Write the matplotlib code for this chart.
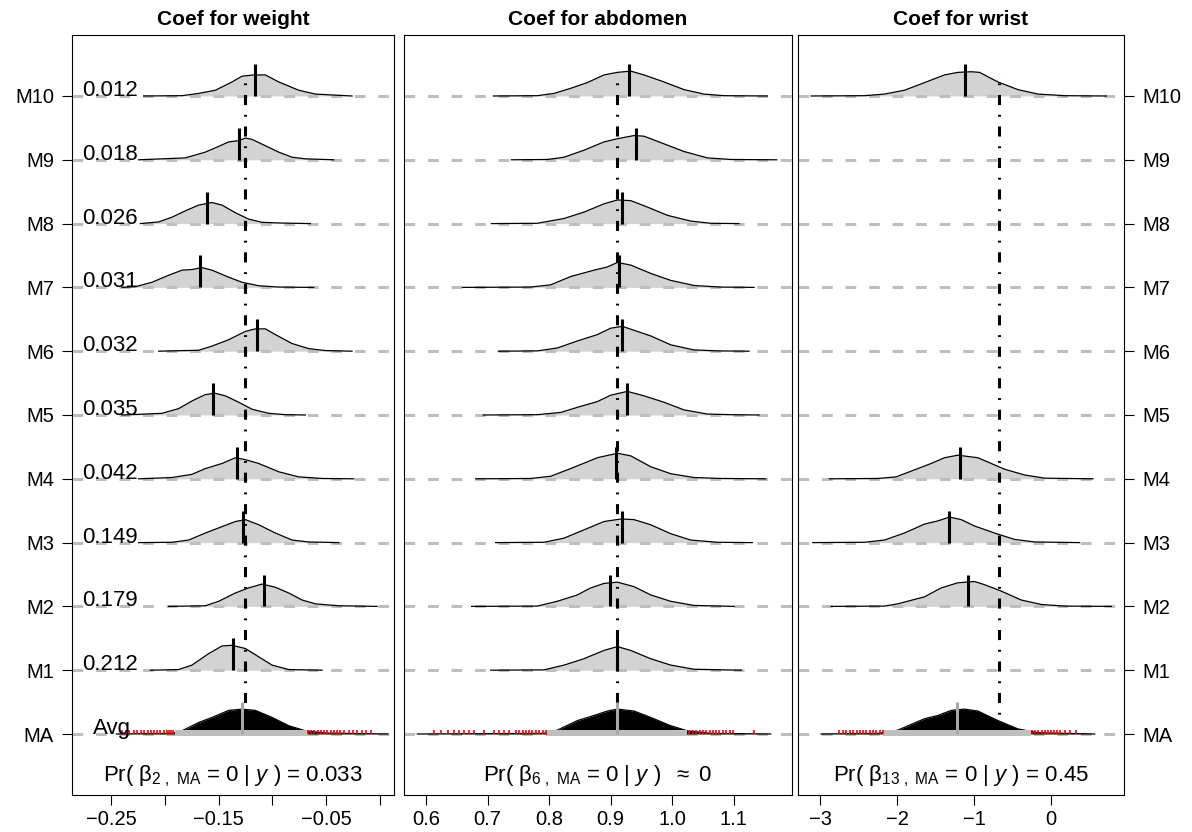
import matplotlib
matplotlib.use("Agg")
import matplotlib.pyplot as plt

plt.rcParams["font.family"] = ["Liberation Sans", "DejaVu Sans"]
plt.rcParams["mathtext.fontset"] = "custom"
plt.rcParams["mathtext.rm"] = "Liberation Sans"
plt.rcParams["mathtext.it"] = "Liberation Sans:italic"
plt.rcParams["mathtext.bf"] = "Liberation Sans:bold"
plt.rcParams["mathtext.default"] = "regular"

# -----------------------------------------------------------
# data
# rows: 0 = model average (MA), 1..10 = M1..M10
# -----------------------------------------------------------
row_names = ["MA", "M1", "M2", "M3", "M4", "M5", "M6", "M7", "M8", "M9", "M10"]
post_probs = ["0.212", "0.179", "0.149", "0.042", "0.035",
              "0.032", "0.031", "0.026", "0.018", "0.012"]  # M1..M10

# --- Coef for weight
weight_rows = [10, 9, 8, 7, 6, 5, 4, 3, 2, 1]
weight_x = [
    [-0.2196, -0.1840, -0.1685, -0.1530, -0.1375, -0.1282, -0.1174, -0.1065, -0.0941, -0.0755, -0.0601, -0.0260],
    [-0.2243, -0.1809, -0.1623, -0.1499, -0.1406, -0.1313, -0.1251, -0.1189, -0.1065, -0.0941, -0.0817, -0.0693, -0.0430],
    [-0.2227, -0.2057, -0.1933, -0.1809, -0.1685, -0.1561, -0.1468, -0.1344, -0.1220, -0.1096, -0.0941, -0.0647],
    [-0.2397, -0.2273, -0.2119, -0.1964, -0.1840, -0.1747, -0.1654, -0.1561, -0.1406, -0.1282, -0.1127, -0.0941, -0.0616],
    [-0.2057, -0.1685, -0.1561, -0.1406, -0.1251, -0.1158, -0.1065, -0.0972, -0.0817, -0.0662, -0.0507, -0.0260],
    [-0.2397, -0.2026, -0.1871, -0.1747, -0.1623, -0.1530, -0.1437, -0.1313, -0.1189, -0.1034, -0.0879, -0.0693],
    [-0.2243, -0.1933, -0.1747, -0.1623, -0.1468, -0.1344, -0.1251, -0.1127, -0.0941, -0.0755, -0.0538, -0.0244],
    [-0.2243, -0.1933, -0.1778, -0.1623, -0.1468, -0.1344, -0.1251, -0.1127, -0.0972, -0.0817, -0.0662, -0.0383],
    [-0.1964, -0.1623, -0.1499, -0.1344, -0.1220, -0.1096, -0.0972, -0.0848, -0.0724, -0.0601, -0.0383, -0.0027],
    [-0.2134, -0.1871, -0.1747, -0.1592, -0.1468, -0.1375, -0.1251, -0.1127, -0.1003, -0.0848, -0.0538],
]
weight_h = [
    [0, 0.005, 0.04, 0.09, 0.22, 0.31, 0.33, 0.33, 0.22, 0.09, 0.03, 0],
    [0, 0.03, 0.12, 0.21, 0.28, 0.30, 0.34, 0.32, 0.22, 0.12, 0.04, 0.015, 0],
    [0, 0.026, 0.10, 0.20, 0.29, 0.33, 0.29, 0.17, 0.07, 0.02, 0.01, 0],
    [0, 0.01, 0.08, 0.19, 0.27, 0.28, 0.31, 0.27, 0.16, 0.08, 0.026, 0.005, 0],
    [0, 0.015, 0.08, 0.18, 0.31, 0.35, 0.35, 0.26, 0.12, 0.04, 0.01, 0],
    [0, 0.026, 0.10, 0.22, 0.32, 0.34, 0.30, 0.20, 0.09, 0.026, 0.005, 0],
    [0, 0.02, 0.07, 0.16, 0.24, 0.33, 0.30, 0.24, 0.11, 0.03, 0.005, 0],
    [0, 0.005, 0.04, 0.15, 0.25, 0.33, 0.36, 0.28, 0.15, 0.04, 0.01, 0],
    [0, 0.01, 0.08, 0.21, 0.29, 0.35, 0.30, 0.21, 0.10, 0.04, 0.01, 0],
    [0, 0.01, 0.08, 0.26, 0.38, 0.39, 0.34, 0.21, 0.08, 0.01, 0],
]
weight_med = [-0.1158, -0.1313, -0.1607, -0.1669, -0.1139, -0.1555, -0.1332, -0.1276, -0.1074, -0.1366]
weight_ma_x = [-0.245, -0.1933, -0.1840, -0.1685, -0.1561, -0.1406, -0.1282, -0.1158, -0.1003, -0.0848, -0.0693, -0.0507, 0.0074]
weight_ma_h = [0, 0.01, 0.05, 0.18, 0.26, 0.37, 0.39, 0.37, 0.26, 0.13, 0.05, 0.015, 0]
weight_ma_med = -0.1282
weight_ref = -0.1257
weight_red = [-0.240, -0.236, -0.233, -0.229, -0.226, -0.222, -0.219, -0.216, -0.213, -0.210,
              -0.207, -0.204, -0.201, -0.198, -0.196, -0.194, -0.192,
              -0.067, -0.064, -0.061, -0.058, -0.055, -0.052, -0.049, -0.046, -0.043,
              -0.040, -0.037, -0.033, -0.029, -0.025, -0.021, -0.017, -0.013, -0.008]
weight_band = (-0.1905, -0.067)

# --- Coef for abdomen
abdomen_rows = [10, 9, 8, 7, 6, 5, 4, 3, 2, 1]
abdomen_x = [
    [0.7095, 0.7810, 0.8081, 0.8352, 0.8623, 0.8894, 0.9111, 0.9328, 0.9545, 0.9870, 1.0195, 1.0520, 1.0845, 1.1550],
    [0.7388, 0.7973, 0.8244, 0.8569, 0.8894, 0.9111, 0.9382, 0.9545, 0.9870, 1.0195, 1.0574, 1.0954, 1.1702],
    [0.7062, 0.7810, 0.8244, 0.8569, 0.8894, 0.9111, 0.9328, 0.9599, 0.9924, 1.0303, 1.0628, 1.1089],
    [0.6591, 0.7702, 0.8027, 0.8352, 0.8731, 0.8948, 0.9111, 0.9328, 0.9653, 0.9978, 1.0357, 1.0791, 1.1333],
    [0.7176, 0.7810, 0.8135, 0.8460, 0.8786, 0.9002, 0.9192, 0.9436, 0.9653, 0.9978, 1.0357, 1.0737, 1.1252],
    [0.6932, 0.7810, 0.8190, 0.8461, 0.8786, 0.9002, 0.9273, 0.9545, 0.9870, 1.0195, 1.0574, 1.0954, 1.1414],
    [0.6808, 0.7702, 0.8027, 0.8352, 0.8786, 0.9111, 0.9328, 0.9653, 0.9978, 1.0357, 1.0791, 1.1523],
    [0.7133, 0.7919, 0.8244, 0.8569, 0.8894, 0.9165, 0.9382, 0.9653, 0.9978, 1.0303, 1.0737, 1.1306],
    [0.6742, 0.7810, 0.8135, 0.8461, 0.8677, 0.8894, 0.9111, 0.9382, 0.9653, 0.9978, 1.0357, 1.1008],
    [0.7051, 0.7919, 0.8244, 0.8569, 0.8894, 0.9111, 0.9328, 0.9653, 0.9978, 1.0357, 1.1127],
]
abdomen_h = [
    [0, 0.005, 0.04, 0.12, 0.21, 0.33, 0.37, 0.39, 0.33, 0.22, 0.10, 0.03, 0.005, 0],
    [0, 0.005, 0.04, 0.15, 0.28, 0.33, 0.38, 0.37, 0.25, 0.13, 0.03, 0.005, 0],
    [0, 0.005, 0.08, 0.18, 0.31, 0.37, 0.36, 0.26, 0.13, 0.04, 0.005, 0],
    [0, 0.005, 0.04, 0.17, 0.27, 0.32, 0.39, 0.35, 0.22, 0.11, 0.03, 0.005, 0],
    [0, 0.005, 0.05, 0.16, 0.26, 0.36, 0.39, 0.31, 0.24, 0.10, 0.02, 0.005, 0],
    [0, 0.005, 0.04, 0.12, 0.21, 0.31, 0.37, 0.30, 0.20, 0.08, 0.015, 0.005, 0],
    [0, 0.005, 0.04, 0.16, 0.33, 0.40, 0.36, 0.19, 0.08, 0.02, 0.005, 0],
    [0, 0.005, 0.07, 0.20, 0.33, 0.37, 0.36, 0.28, 0.14, 0.04, 0.005, 0],
    [0, 0.005, 0.08, 0.18, 0.29, 0.36, 0.38, 0.31, 0.18, 0.08, 0.015, 0],
    [0, 0.005, 0.08, 0.18, 0.31, 0.37, 0.31, 0.18, 0.08, 0.015, 0],
]
abdomen_med = [0.9306, 0.9409, 0.9192, 0.9138, 0.9192, 0.9273, 0.9094, 0.9192, 0.8991, 0.9111]
abdomen_ma_x = [0.5859, 0.7919, 0.8135, 0.8461, 0.8731, 0.8948, 0.9111, 0.9382, 0.9653, 0.9978, 1.0249, 1.0628, 1.1604]
abdomen_ma_h = [0, 0.01, 0.06, 0.21, 0.29, 0.36, 0.39, 0.36, 0.26, 0.13, 0.05, 0.01, 0]
abdomen_ma_med = 0.910
abdomen_ref = 0.910
abdomen_red = [0.613, 0.624, 0.635, 0.646, 0.654, 0.662, 0.670, 0.678, 0.694, 0.711, 0.719,
               0.727, 0.735, 0.746, 0.752, 0.757, 0.763, 0.768, 0.773, 0.779, 0.784, 0.790, 0.795,
               1.028, 1.034, 1.039, 1.045, 1.050, 1.055, 1.061, 1.066, 1.072, 1.077, 1.083,
               1.088, 1.094, 1.099, 1.133]
abdomen_band = (0.797, 1.025)

# --- Coef for wrist (only M10, M4, M3, M2 include wrist)
wrist_rows = [10, 4, 3, 2]
wrist_x = [
    [-3.122, -2.427, -2.166, -1.905, -1.644, -1.384, -1.210, -1.036, -0.927, -0.688, -0.428, -0.167, 0.181, 0.724],
    [-2.883, -2.253, -2.014, -1.775, -1.558, -1.384, -1.210, -0.949, -0.775, -0.601, -0.341, -0.080, 0.550],
    [-3.100, -2.427, -2.166, -1.905, -1.644, -1.471, -1.319, -1.166, -0.992, -0.732, -0.471, -0.210, 0.376],
    [-2.861, -2.166, -1.992, -1.644, -1.427, -1.210, -0.992, -0.862, -0.645, -0.384, -0.123, 0.181, 0.789],
]
wrist_h = [
    [0, 0.005, 0.03, 0.09, 0.21, 0.33, 0.37, 0.38, 0.37, 0.22, 0.10, 0.03, 0.005, 0],
    [0, 0.005, 0.03, 0.14, 0.24, 0.33, 0.37, 0.33, 0.24, 0.15, 0.06, 0.01, 0],
    [0, 0.005, 0.04, 0.15, 0.29, 0.34, 0.40, 0.36, 0.26, 0.15, 0.05, 0.01, 0],
    [0, 0.005, 0.04, 0.15, 0.29, 0.37, 0.39, 0.34, 0.24, 0.10, 0.03, 0.005, 0],
]
wrist_med = [-1.123, -1.180, -1.319, -1.080]
wrist_ma_x = [-2.992, -2.253, -1.992, -1.644, -1.471, -1.297, -1.123, -0.949, -0.688, -0.428, -0.167, 0.572]
wrist_ma_h = [0, 0.01, 0.06, 0.24, 0.29, 0.37, 0.39, 0.36, 0.21, 0.08, 0.02, 0]
wrist_ma_med = -1.219
wrist_ref = -0.671
wrist_red = [-2.753, -2.71, -2.67, -2.62, -2.58, -2.53, -2.49, -2.45, -2.40, -2.36, -2.32, -2.27, -2.23, -2.19,
             -0.25, -0.21, -0.17, -0.12, -0.08, -0.04, 0.0, 0.04, 0.08, 0.12, 0.18, 0.25, 0.33]
wrist_band = (-2.19, -0.254)

# -----------------------------------------------------------
# figure
# -----------------------------------------------------------
W, H = 1192, 832
fig = plt.figure(figsize=(W / 100, H / 100), dpi=100)


def box(left, right, top=35, bottom=795):
    return [left / W, (H - bottom) / H, (right - left) / W, (bottom - top) / H]


GRAY = "#BEBEBE"
FS = 14.5


def draw_panel(ax, rows, xs, hs, meds, ma_x, ma_h, ma_med, ref, red, band,
               title, prtext, xlim, xticks, xticklabels):
    for r in range(11):
        ax.plot(xlim, [r, r], color=GRAY, lw=2.2, ls=(0, (3.5, 4.2)), zorder=2)

    for r, x, h, m in zip(rows, xs, hs, meds):
        top = [r + v for v in h]
        ax.fill_between(x, r, top, color="#D3D3D3", lw=0, zorder=1)
        ax.plot(x, top, color="black", lw=0.9, zorder=3)
        ax.plot([m, m], [r, r + 0.5], color="black", lw=2.2, solid_capstyle="butt", zorder=5)

    # model-averaged reference line
    ax.plot([ref, ref], [0, 10.36], color="black", lw=2.2,
            ls=(0, (3.3, 3.2, 0.6, 3.2)), zorder=4)

    # model average density
    ax.fill_between(ma_x, 0, ma_h, color="black", lw=0, zorder=6)
    ax.plot(ma_x, ma_h, color="black", lw=0.9, zorder=6)
    ax.fill_between(band, -0.03, 0.065, color=GRAY, lw=0, zorder=7)
    ax.vlines(red, 0, 0.065, color="red", lw=1.2, zorder=7)
    ax.plot([ma_med, ma_med], [0, 0.5], color="#A8A8A8", lw=2.2, solid_capstyle="butt", zorder=8)

    ax.text(0.5, -0.75, prtext, transform=ax.get_yaxis_transform(),
            ha="center", va="baseline", fontsize=16)

    ax.set_xlim(xlim)
    ax.set_ylim(-0.956, 10.956)
    ax.set_xticks(xticks)
    ax.set_xticklabels(xticklabels)
    ax.tick_params(axis="both", direction="out", length=7, width=0.8, pad=4, labelsize=FS)
    ax.set_title(title, fontsize=15, fontweight="bold", pad=7)
    for s in ax.spines.values():
        s.set_linewidth(0.8)


ax1 = fig.add_axes(box(72, 394))
ax2 = fig.add_axes(box(404, 792))
ax3 = fig.add_axes(box(798, 1124))

draw_panel(ax1, weight_rows, weight_x, weight_h, weight_med, weight_ma_x, weight_ma_h,
           weight_ma_med, weight_ref, weight_red, weight_band, "Coef for weight",
           r"Pr( $\beta_{2\ ,\ MA}$ = 0 | $\mathit{y}$ ) = 0.033",
           (-0.2862, 0.0130), [-0.25, -0.20, -0.15, -0.10, -0.05, 0.0],
           ["\u22120.25", "", "\u22120.15", "", "\u22120.05", ""])
draw_panel(ax2, abdomen_rows, abdomen_x, abdomen_h, abdomen_med, abdomen_ma_x, abdomen_ma_h,
           abdomen_ma_med, abdomen_ref, abdomen_red, abdomen_band, "Coef for abdomen",
           r"Pr( $\beta_{6\ ,\ MA}$ = 0 | $\mathit{y}$ )  $\approx$ 0",
           (0.5642, 1.1951), [0.6, 0.7, 0.8, 0.9, 1.0, 1.1],
           ["0.6", "0.7", "0.8", "0.9", "1.0", "1.1"])
draw_panel(ax3, wrist_rows, wrist_x, wrist_h, wrist_med, wrist_ma_x, wrist_ma_h,
           wrist_ma_med, wrist_ref, wrist_red, wrist_band, "Coef for wrist",
           r"Pr( $\beta_{13\ ,\ MA}$ = 0 | $\mathit{y}$ ) = 0.45",
           (-3.292, 0.954), [-3, -2, -1, 0],
           ["\u22123", "\u22122", "\u22121", "0"])

# y axes: left on the first panel, right on the last one
ax1.set_yticks(range(11))
ax1.set_yticklabels(row_names)
ax1.tick_params(axis="y", pad=6)
ax2.set_yticks([])
ax3.yaxis.tick_right()
ax3.set_yticks(range(11))
ax3.set_yticklabels(row_names)
ax3.tick_params(axis="y", pad=6)

# posterior model probabilities
tr = ax1.get_yaxis_transform()
for r, p in zip(range(1, 11), post_probs):
    ax1.text(0.031, r, p, transform=tr, ha="left", va="baseline", fontsize=16, zorder=10)
ax1.text(0.065, 0, "Avg", transform=tr, ha="left", va="baseline", fontsize=16, zorder=10)

fig.savefig("out.png", dpi=100)
